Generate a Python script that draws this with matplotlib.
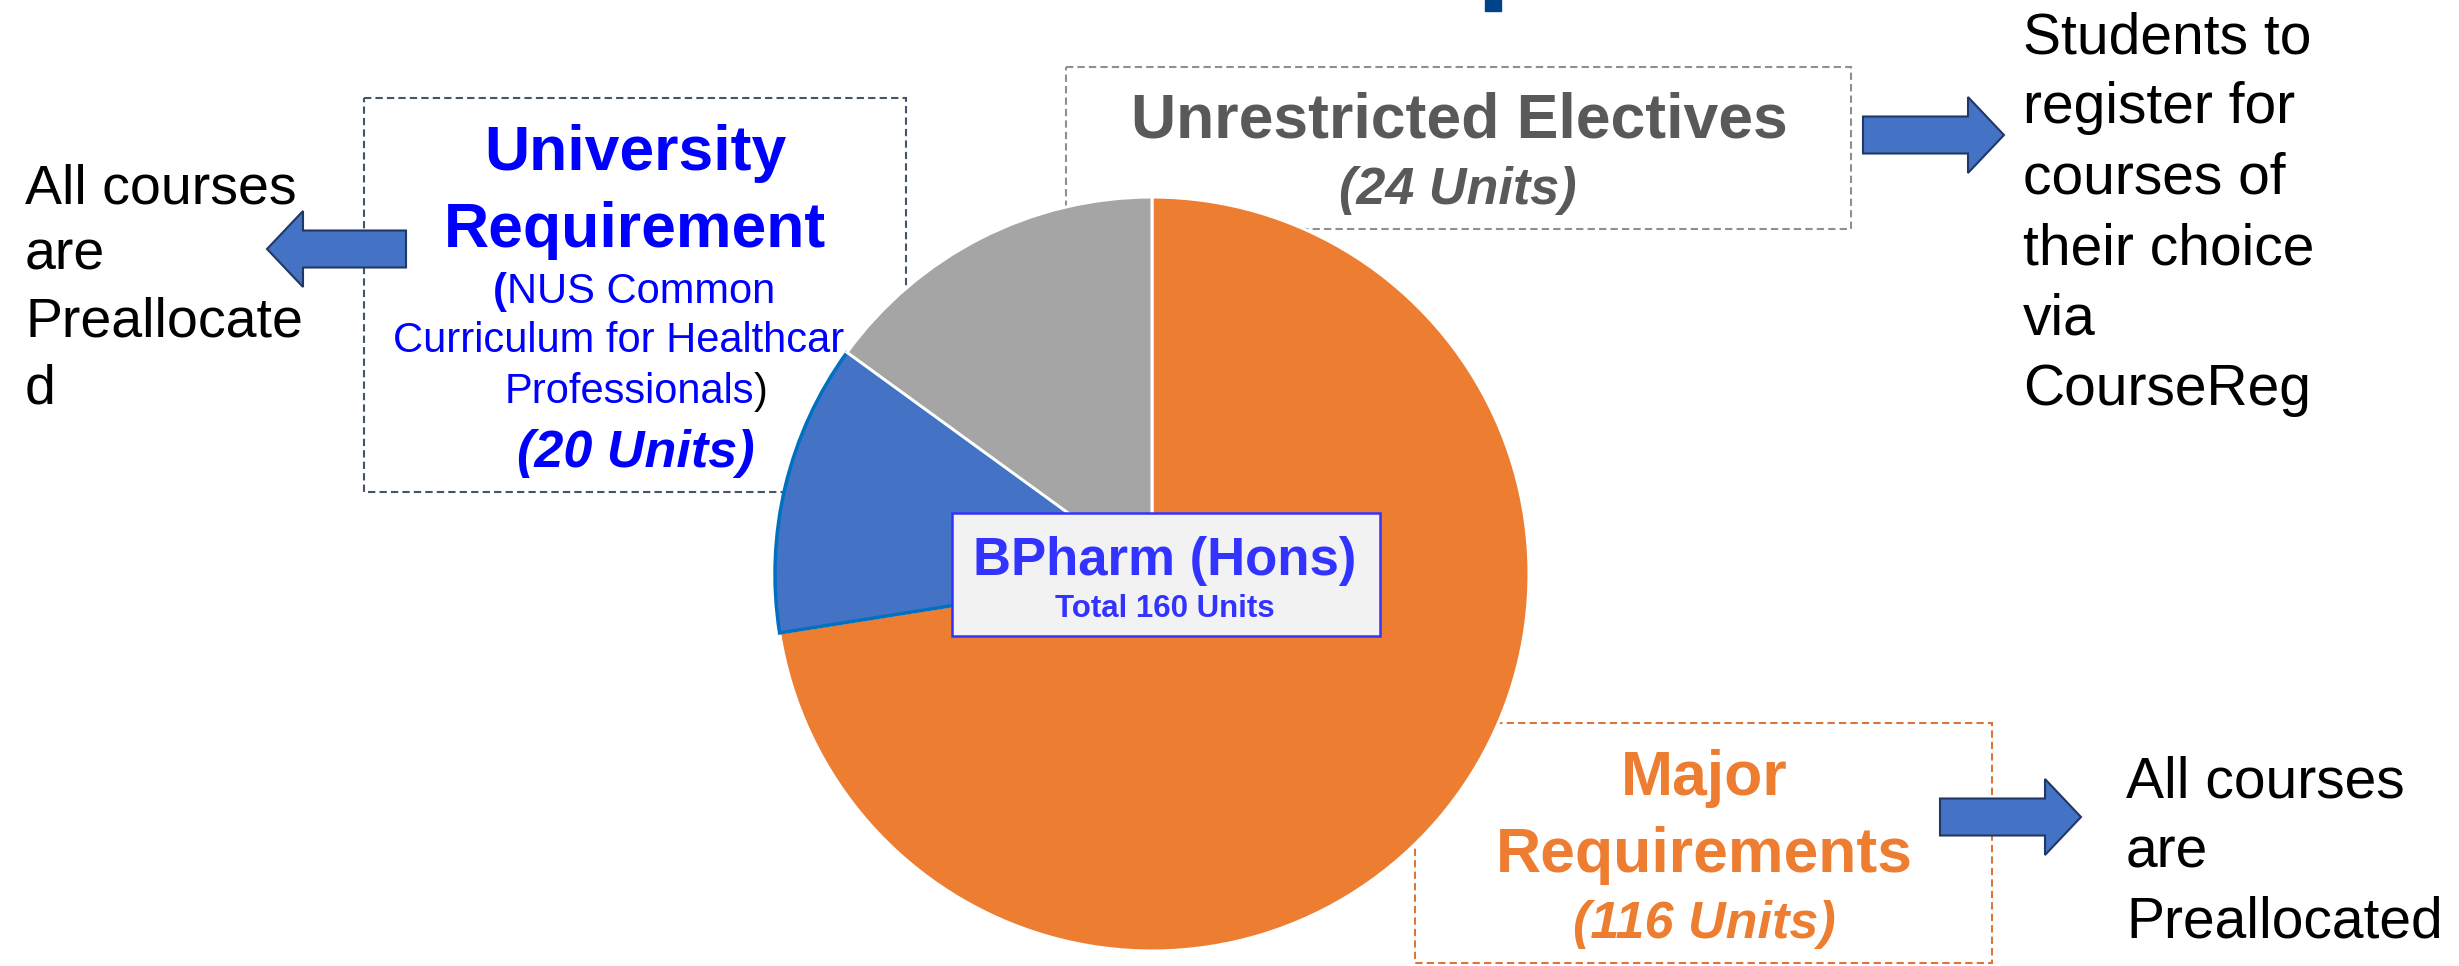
import matplotlib.pyplot as plt
from matplotlib.patches import Rectangle, FancyArrow

plt.rcParams['font.family'] = ['Liberation Sans', 'DejaVu Sans']

# data
units = [116, 20, 24]
slice_colors = ['#ed7d31', '#4472c4', '#a5a5a5']
programme = 'BPharm (Hons)'
total = sum(units)

left_note = ['All courses', 'are', 'Preallocate', 'd']
top_note = ['Students to', 'register for', 'courses of', 'their choice', 'via', 'CourseReg']
bottom_note = ['All courses', 'are', 'Preallocated']

W, H = 2459, 966
fig = plt.figure(figsize=(W / 100, H / 100), dpi=100)
ax = fig.add_axes([0, 0, 1, 1])

# pie (y axis is inverted below, so start at -90 and go "counterclock" = clockwise on screen)
wedges, _ = ax.pie(units, colors=slice_colors, startangle=-90, counterclock=True,
                   center=(1152, 574), radius=377,
                   wedgeprops=dict(edgecolor='white', linewidth=2.2))
for w in wedges:
    w.set_zorder(3)
wedges[1].set_edgecolor('#0070c0')
wedges[1].set_linewidth(2.5)
wedges[2].set_zorder(3.1)

ax.set_xlim(0, W)
ax.set_ylim(H, 0)
ax.set_aspect('equal')
ax.axis('off')

# cut-off bar at the very top
ax.add_patch(Rectangle((1485, 0), 16, 11, color='#00438a', zorder=1))

# dashed boxes
def dbox(x0, y0, x1, y1, col):
    ax.add_patch(Rectangle((x0, y0), x1 - x0, y1 - y0, fill=False, edgecolor=col,
                           linewidth=1.5, linestyle=(0, (3.5, 2)), zorder=1))

dbox(364, 98, 906, 492, '#44546a')
dbox(1066, 67, 1851, 229, '#8f8f8f')
dbox(1415, 723, 1992, 963, '#d9773a')

blue = '#0000ff'
# university requirement (text sits under the pie, like the original)
ax.text(635, 170, 'University', color=blue, fontsize=45, fontweight='bold', ha='center', va='baseline', zorder=2)
ax.text(635, 247, 'Requirement', color=blue, fontsize=45, fontweight='bold', ha='center', va='baseline', zorder=2)
ax.text(507, 303, '(', color=blue, fontsize=30, fontweight='bold', ha='right', va='baseline', zorder=2)
ax.text(507, 303, 'NUS Common', color=blue, fontsize=30, ha='left', va='baseline', zorder=2)
ax.text(393, 352, 'Curriculum for Healthcar', color=blue, fontsize=30, ha='left', va='baseline', zorder=2)
ax.text(754, 403, 'Professionals', color=blue, fontsize=30, ha='right', va='baseline', zorder=2)
ax.text(754, 403, ')', color='black', fontsize=30, ha='left', va='baseline', zorder=2)
ax.text(636, 467, f'({units[1]} Units)', color=blue, fontsize=37.5, fontweight='bold', style='italic',
        ha='center', va='baseline', zorder=2)

# unrestricted electives
grey = '#595959'
ax.text(1459, 138, 'Unrestricted Electives', color=grey, fontsize=45, fontweight='bold', ha='center', va='baseline', zorder=2)
ax.text(1458, 204, f'({units[2]} Units)', color=grey, fontsize=37.5, fontweight='bold', style='italic',
        ha='center', va='baseline', zorder=2)

# major requirements
orange = '#ed7d31'
ax.text(1704, 795, 'Major', color=orange, fontsize=45, fontweight='bold', ha='center', va='baseline', zorder=4)
ax.text(1704, 872, 'Requirements', color=orange, fontsize=45, fontweight='bold', ha='center', va='baseline', zorder=4)
ax.text(1704, 938, f'({units[0]} Units)', color=orange, fontsize=37.5, fontweight='bold', style='italic',
        ha='center', va='baseline', zorder=4)

# centre label
ax.add_patch(Rectangle((952, 513), 428, 123, facecolor='#f2f2f2', edgecolor='#3333ff', linewidth=1.8, zorder=5))
ax.text(1165, 575, programme, color='#3333ff', fontsize=38, fontweight='bold', ha='center', va='baseline', zorder=6)
ax.text(1165, 617, f'Total {total} Units', color='#3333ff', fontsize=22.5, fontweight='bold',
        ha='center', va='baseline', zorder=6)

# arrows
arrow_kw = dict(width=37, head_width=76, head_length=36, length_includes_head=True,
                facecolor='#4472c4', edgecolor='#203864', linewidth=1.5, zorder=6)
ax.add_patch(FancyArrow(406, 249, 267 - 406, 0, **arrow_kw))
ax.add_patch(FancyArrow(1863, 135, 2004 - 1863, 0, **arrow_kw))
ax.add_patch(FancyArrow(1940, 817, 2081 - 1940, 0, **arrow_kw))

# side notes
for i, line in enumerate(left_note):
    ax.text(25, 203 + i * 66.7, line, fontsize=40, ha='left', va='baseline', color='black')
for i, line in enumerate(top_note):
    ax.text(2023, 53 + i * 70.4, line, fontsize=41, ha='left', va='baseline', color='black')
for i, line in enumerate(bottom_note):
    ax.text(2126, 798 + i * 70, line, fontsize=41, ha='left', va='baseline', color='black')

fig.savefig('out.png', dpi=100, facecolor='white')
